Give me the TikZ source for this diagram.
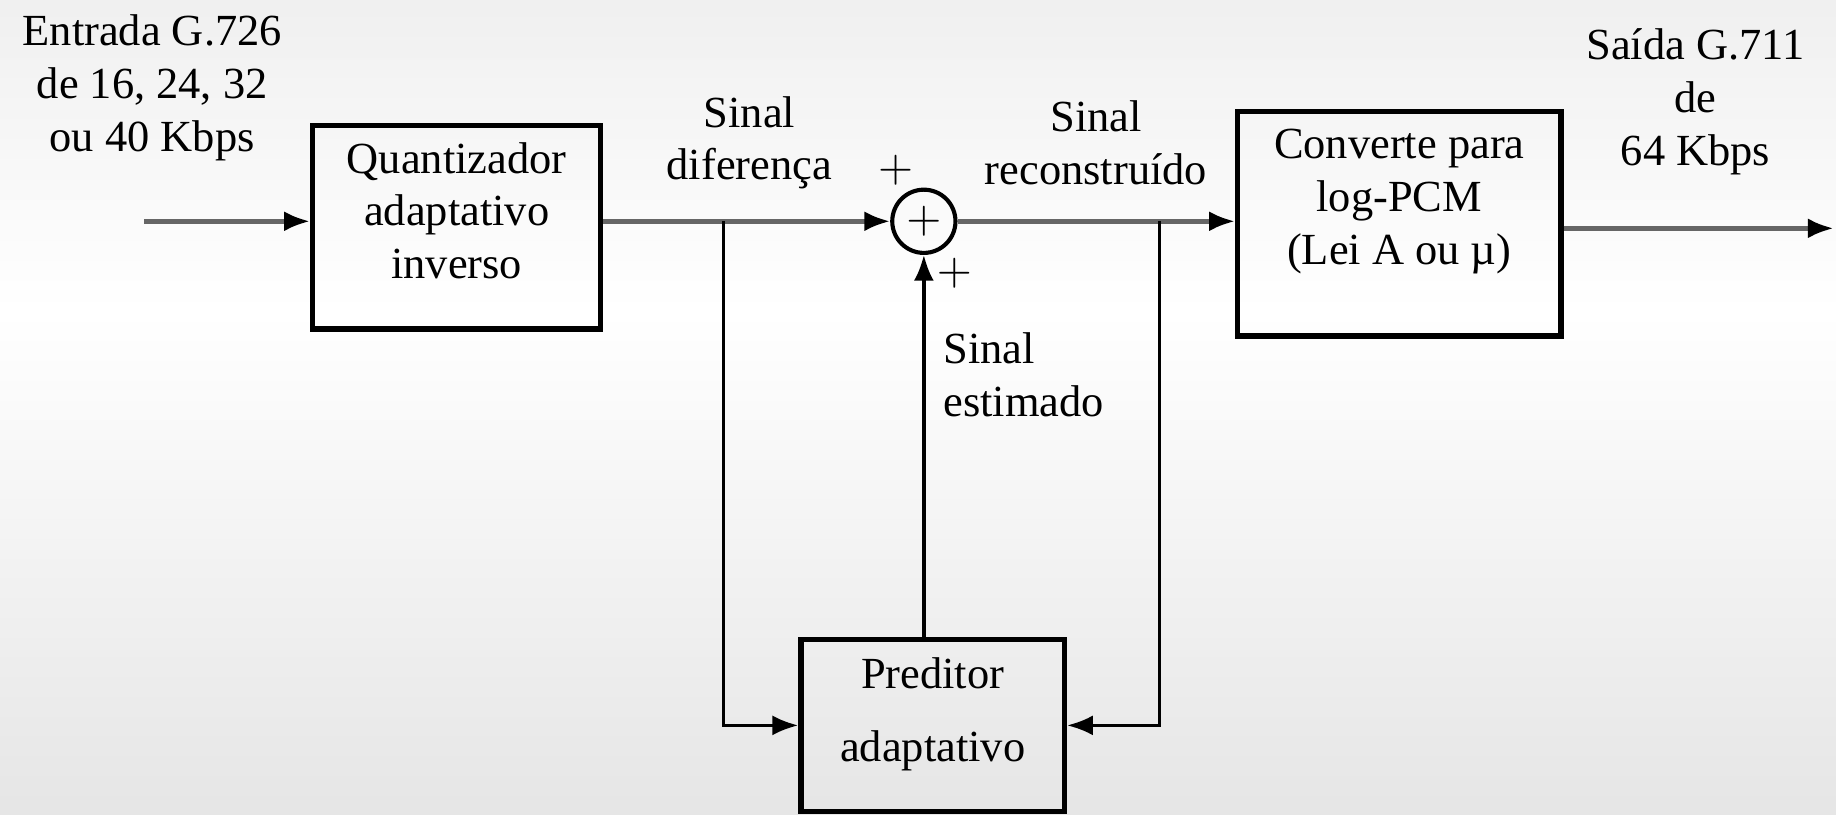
\documentclass[tikz,border=0pt]{standalone}
\usepackage{fontspec}
\setmainfont{Liberation Serif}
\usetikzlibrary{arrows.meta}

\begin{document}
\begin{tikzpicture}[>={Latex[length=2.2mm,width=1.7mm]},
    font=\fontsize{10.8}{12.8}\selectfont,
    block/.style={draw, line width=1.3pt, rectangle},
    txt/.style={align=center, inner sep=0pt},
    sig/.style={line width=1.1pt, draw=black!60, -{Latex[length=2.2mm,width=1.7mm,color=black]}},
    fb/.style={line width=0.8pt, ->}]
    \useasboundingbox (0, 0) rectangle (15.68, 6.96);
    \shade [top color=black!6, bottom color=white] (0, 4.3) rectangle (15.68, 6.96);
    \shade [top color=white, bottom color=black!10] (0, 0) rectangle (15.68, 4.3);

    \node [block, minimum width=2.46cm, minimum height=1.74cm] (quant) at (3.90, 5.02) {};
    \node [txt] (quanttxt) at (3.90, 5.16) {Quantizador\\adaptativo\\inverso};
    \node [block, minimum width=2.76cm, minimum height=1.92cm] (conv) at (11.95, 5.05) {};
    \node [txt] (convtxt) at (11.95, 5.24) {Converte para\\log-PCM\\(Lei A ou µ)};
    \node [block, minimum width=2.25cm, minimum height=1.47cm] (pred) at (7.965, 0.765) {};
    \node [txt] (predtxt) at (7.965, 0.86) {Preditor\\[0.18cm]adaptativo};
    \node [draw, circle, line width=1pt, minimum size=0.54cm, inner sep=0pt] (sum) at (7.89, 5.07) {$+$};

    \node [txt] (entrada) at (1.30, 6.21) {Entrada G.726\\de 16, 24, 32\\ou 40 Kbps};
    \node [txt] (saida) at (14.48, 6.09) {Saída G.711\\de\\64 Kbps};
    \node [txt] (dif) at (6.40, 5.74) {Sinal\\diferença};
    \node [txt] (rec) at (9.36, 5.74) {Sinal\\reconstruído};
    \node [txt, align=left, anchor=west] (est) at (8.05, 3.76) {Sinal\\estimado};
    \node [txt] (plusa) at (7.65, 5.51) {$+$};
    \node [txt] (plusb) at (8.15, 4.63) {$+$};

    \coordinate (in) at (1.23, 5.07);
    \coordinate (bl) at (6.18, 5.07);
    \coordinate (br) at (9.90, 5.07);
    \coordinate (out) at (15.66, 5.01);

    \draw [sig] (in) -- (in -| quant.west);
    \draw [sig] (quant.east |- sum) -- (sum.west);
    \draw [sig] (sum.east) -- (sum -| conv.west);
    \draw [sig] (conv.east |- out) -- (out);
    \draw [fb] (bl) |- (pred.west);
    \draw [fb] (br) |- (pred.east);
    \draw [fb] (pred.north -| sum) -- (sum.south);
\end{tikzpicture}
\end{document}
